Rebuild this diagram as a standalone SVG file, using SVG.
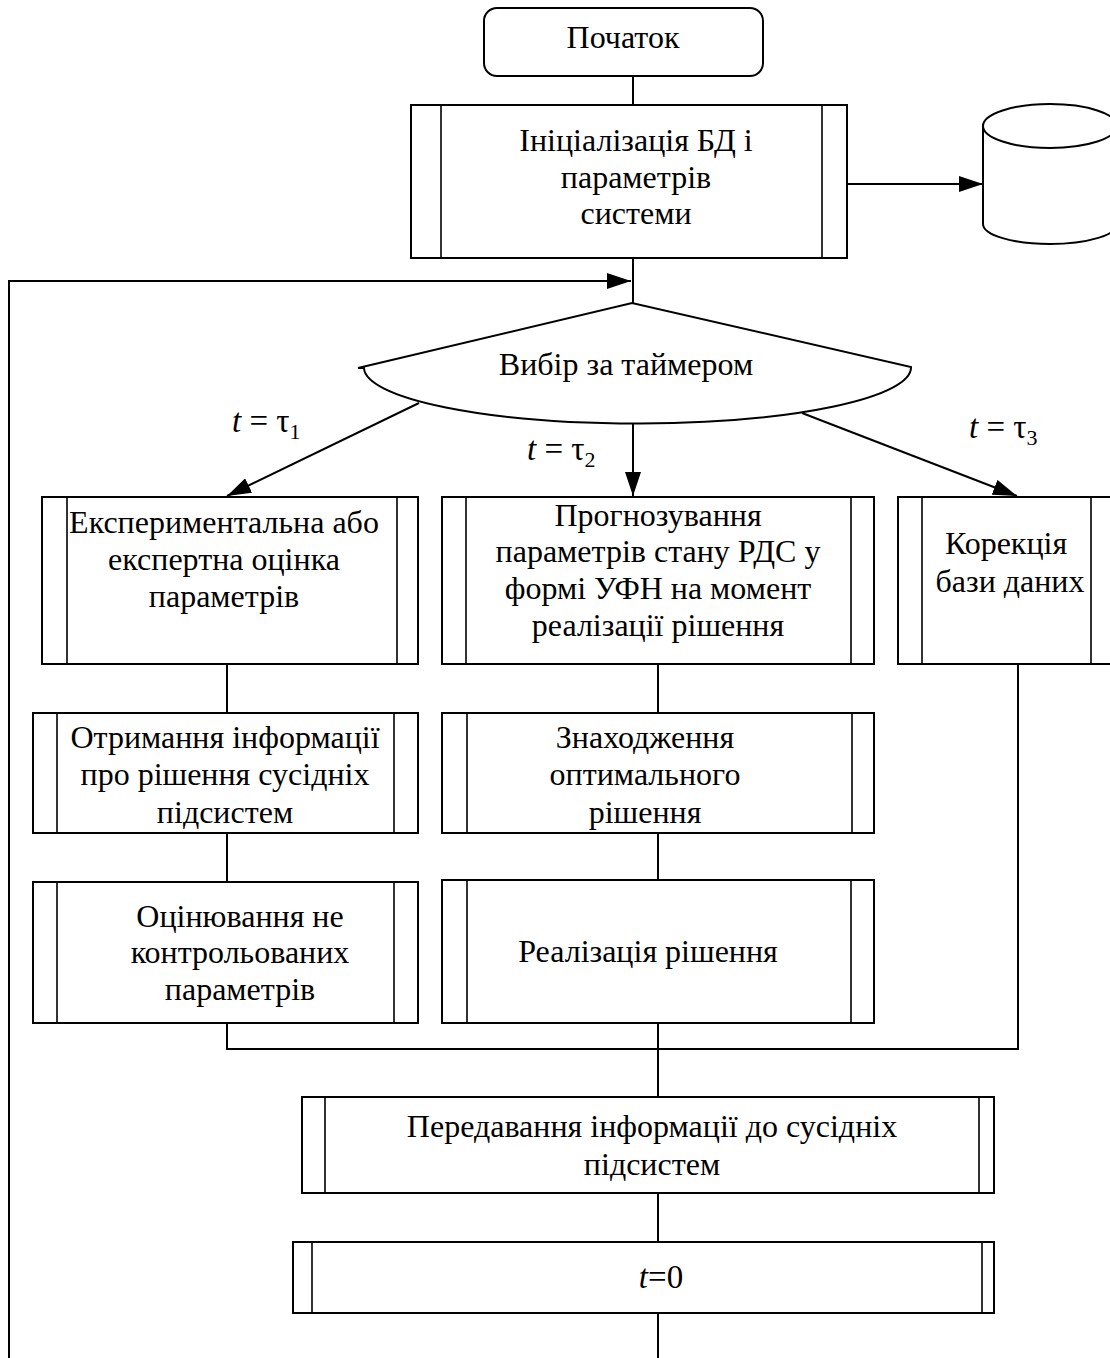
<svg xmlns="http://www.w3.org/2000/svg" width="1110" height="1358" viewBox="0 0 1110 1358">
<defs>
<style>
.b{fill:#fff;stroke:#000;stroke-width:2}
.il{stroke:#000;stroke-width:1.6;fill:none}
.c{stroke:#000;stroke-width:2;fill:none}
.t{font-family:"Liberation Serif","Times New Roman",serif;font-size:32px;fill:#000;text-anchor:middle}
.m{font-family:"Liberation Serif","Times New Roman",serif;font-size:33px;fill:#000}
.i{font-style:italic}
.s{font-size:22px}
</style>
<marker id="ar" markerUnits="userSpaceOnUse" markerWidth="24" markerHeight="16" refX="24" refY="8" orient="auto">
<path d="M0,0 L24,8 L0,16 z" fill="#000"/>
</marker>
</defs>
<rect width="1110" height="1358" fill="#fff"/>

<g id="connectors">
<path class="c" d="M633,76 V105"/>
<path class="c" d="M847,184 H983" marker-end="url(#ar)"/>
<path class="c" d="M633,258 V303"/>
<path class="c" d="M9,1358 V281 H631" marker-end="url(#ar)"/>
<path class="c" d="M419,403 L227,496" marker-end="url(#ar)"/>
<path class="c" d="M633,423 V496" marker-end="url(#ar)"/>
<path class="c" d="M802,413 L1017,496" marker-end="url(#ar)"/>
<path class="c" d="M227,664 V713"/>
<path class="c" d="M227,833 V882"/>
<path class="c" d="M227,1023 V1049 H1018 V664"/>
<path class="c" d="M658,664 V713"/>
<path class="c" d="M658,833 V880"/>
<path class="c" d="M658,1023 V1097"/>
<path class="c" d="M658,1193 V1242"/>
<path class="c" d="M658,1313 V1358"/>
</g>

<g id="start">
<rect class="b" x="484" y="8" width="279" height="68" rx="13"/>
<text class="t" x="623" y="48">Початок</text>
</g>

<g id="init">
<rect class="b" x="411" y="105" width="436" height="153"/>
<path class="il" d="M441,105 V258 M822,105 V258"/>
<text class="t" x="636" y="151">Ініціалізація БД і</text>
<text class="t" x="636" y="188">параметрів</text>
<text class="t" x="636" y="224">системи</text>
</g>

<g id="database">
<path class="b" d="M983,126 V224 A67,20 0 0 0 1117,224 V126"/>
<ellipse class="b" cx="1050" cy="126" rx="67" ry="22"/>
</g>

<g id="decision">
<path class="b" d="M364,368 A273.5,56 0 0 0 911,367 L632,303 L358,368 Z"/>
<path class="c" d="M358,368 H364"/>
<text class="t" x="626" y="375">Вибір за таймером</text>
</g>

<g id="labels">
<text class="m" x="232" y="432"><tspan class="i">t</tspan> = τ<tspan class="s" dy="7">1</tspan></text>
<text class="m" x="527" y="460"><tspan class="i">t</tspan> = τ<tspan class="s" dy="7">2</tspan></text>
<text class="m" x="969" y="438"><tspan class="i">t</tspan> = τ<tspan class="s" dy="7">3</tspan></text>
</g>

<g id="expert">
<rect class="b" x="42" y="497" width="376" height="167"/>
<path class="il" d="M67,497 V664 M397,497 V664"/>
<text class="t" x="224" y="533">Експериментальна або</text>
<text class="t" x="224" y="570">експертна оцінка</text>
<text class="t" x="224" y="607">параметрів</text>
</g>

<g id="forecast">
<rect class="b" x="442" y="497" width="432" height="167"/>
<path class="il" d="M466,497 V664 M851,497 V664"/>
<text class="t" x="658" y="526">Прогнозування</text>
<text class="t" x="658" y="562">параметрів стану РДС у</text>
<text class="t" x="658" y="599">формі УФН на момент</text>
<text class="t" x="658" y="636">реалізації рішення</text>
</g>

<g id="dbcorrection">
<rect class="b" x="898" y="497" width="220" height="167"/>
<path class="il" d="M922,497 V664 M1091,497 V664"/>
<text class="t" x="1006" y="554">Корекція</text>
<text class="t" x="1010" y="592">бази даних</text>
</g>

<g id="receive">
<rect class="b" x="33" y="713" width="385" height="120"/>
<path class="il" d="M57,713 V833 M394,713 V833"/>
<text class="t" x="225" y="748">Отримання інформації</text>
<text class="t" x="225" y="785">про рішення сусідніх</text>
<text class="t" x="225" y="823">підсистем</text>
</g>

<g id="optimal">
<rect class="b" x="442" y="713" width="432" height="120"/>
<path class="il" d="M467,713 V833 M852,713 V833"/>
<text class="t" x="645" y="748">Знаходження</text>
<text class="t" x="645" y="785">оптимального</text>
<text class="t" x="645" y="823">рішення</text>
</g>

<g id="estimate">
<rect class="b" x="33" y="882" width="385" height="141"/>
<path class="il" d="M57,882 V1023 M394,882 V1023"/>
<text class="t" x="240" y="927">Оцінювання не</text>
<text class="t" x="240" y="963">контрольованих</text>
<text class="t" x="240" y="1000">параметрів</text>
</g>

<g id="implement">
<rect class="b" x="442" y="880" width="432" height="143"/>
<path class="il" d="M467,880 V1023 M851,880 V1023"/>
<text class="t" x="648" y="962">Реалізація рішення</text>
</g>

<g id="transmit">
<rect class="b" x="302" y="1097" width="692" height="96"/>
<path class="il" d="M325,1097 V1193 M979,1097 V1193"/>
<text class="t" x="652" y="1137">Передавання інформації до сусідніх</text>
<text class="t" x="652" y="1175">підсистем</text>
</g>

<g id="reset">
<rect class="b" x="293" y="1242" width="701" height="71"/>
<path class="il" d="M312,1242 V1313 M982,1242 V1313"/>
<text class="m" x="661" y="1288" text-anchor="middle" font-size="34"><tspan class="i">t</tspan>=0</text>
</g>
</svg>
